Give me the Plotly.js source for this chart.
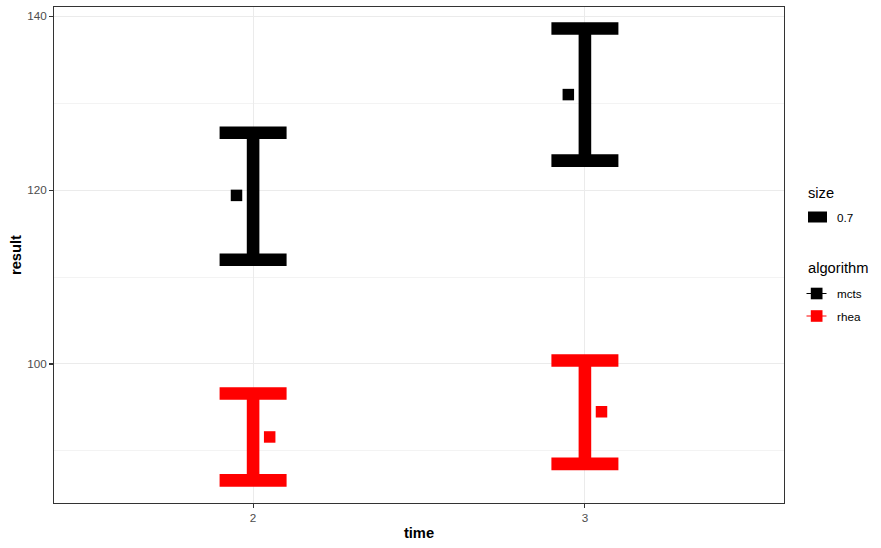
<!DOCTYPE html>
<html>
<head>
<meta charset="utf-8">
<script src="https://cdn.plot.ly/plotly-3.0.1.min.js"></script>
<style>
  html, body { margin: 0; padding: 0; background: #ffffff; }
  #chart { width: 881px; height: 548px; }
</style>
</head>
<body>
<div id="chart"></div>
<script>
// ---- data ----
var times = [2, 3];
var algorithms = ['mcts', 'rhea'];
var algoColors = ['#000000', '#FF0000'];
var mctsMean  = [119.4, 131.0];
var mctsLower = [112.0, 123.4];
var mctsUpper = [126.6, 138.6];
var rheaMean  = [91.6, 94.5];
var rheaLower = [86.6, 88.5];
var rheaUpper = [96.6, 100.4];
var sizeLevels = ['0.7'];
var xTickVals = [2, 3];
var xTickText = ['2', '3'];
var yTickVals = [100, 120, 140];
var yTickText = ['100', '120', '140'];

var series = [
  {name: algorithms[0], color: algoColors[0], mean: mctsMean, lower: mctsLower, upper: mctsUpper, dodge: -0.05},
  {name: algorithms[1], color: algoColors[1], mean: rheaMean, lower: rheaLower, upper: rheaUpper, dodge: 0.05}
];

var FONT = 'Liberation Sans, Arial, Helvetica, sans-serif';
var traces = [];
series.forEach(function (s) {
  traces.push({
    type: 'scatter', mode: 'markers', x: times, y: s.mean,
    marker: {size: 2, color: 'rgba(0,0,0,0)'},
    error_y: {
      type: 'data', symmetric: false,
      array: s.upper.map(function (u, i) { return u - s.mean[i]; }),
      arrayminus: s.lower.map(function (l, i) { return s.mean[i] - l; }),
      color: s.color, thickness: 12.6, width: 33.5
    },
    showlegend: false, hoverinfo: 'skip'
  });
});
series.forEach(function (s) {
  traces.push({
    type: 'scatter', mode: 'markers',
    x: times.map(function (t) { return t + s.dodge; }), y: s.mean,
    marker: {symbol: 'square', size: 11.5, color: s.color, line: {width: 0}},
    showlegend: false, hoverinfo: 'skip', name: s.name
  });
});

// ---- plot area in pixels ----
var L = 54, T = 7, W = 730, H = 496;
function px(x) { return (x - L) / W; }
function py(y) { return (T + H - y) / H; }

var shapes = [], annotations = [];
// legend: size
annotations.push({xref: 'paper', yref: 'paper', x: px(806), y: py(193), xanchor: 'left', yanchor: 'middle',
  text: 'size', showarrow: false, font: {family: FONT, size: 14.7, color: '#000000'}});
shapes.push({type: 'rect', xref: 'paper', yref: 'paper', x0: px(808), x1: px(827), y0: py(211.5), y1: py(222.5),
  fillcolor: '#000000', line: {width: 0}});
annotations.push({xref: 'paper', yref: 'paper', x: px(835), y: py(217.5), xanchor: 'left', yanchor: 'middle',
  text: sizeLevels[0], showarrow: false, font: {family: FONT, size: 11.7, color: '#000000'}});
// legend: algorithm
annotations.push({xref: 'paper', yref: 'paper', x: px(806), y: py(267.5), xanchor: 'left', yanchor: 'middle',
  text: 'algorithm', showarrow: false, font: {family: FONT, size: 14.7, color: '#000000'}});
series.forEach(function (s, i) {
  var cy = 293.5 + i * 22.5;
  shapes.push({type: 'line', xref: 'paper', yref: 'paper', x0: px(806.5), x1: px(826.5), y0: py(cy), y1: py(cy),
    line: {color: s.color, width: 1}});
  shapes.push({type: 'rect', xref: 'paper', yref: 'paper', x0: px(810.8), x1: px(822.5), y0: py(cy - 5.8), y1: py(cy + 5.8),
    fillcolor: s.color, line: {width: 0}});
  annotations.push({xref: 'paper', yref: 'paper', x: px(835), y: py(cy), xanchor: 'left', yanchor: 'middle',
    text: s.name, showarrow: false, font: {family: FONT, size: 11.7, color: '#000000'}});
});

var layout = {
  width: 881, height: 548,
  margin: {l: L, r: 881 - L - W, t: T, b: 548 - T - H, pad: 0},
  paper_bgcolor: '#ffffff', plot_bgcolor: '#ffffff',
  font: {family: FONT, color: '#000000'},
  hovermode: false,
  xaxis: {
    range: [1.4, 3.6], tickmode: 'array', tickvals: xTickVals, ticktext: xTickText,
    showgrid: true, gridcolor: '#EBEBEB', gridwidth: 1, zeroline: false,
    showline: true, mirror: true, linecolor: '#333333', linewidth: 1.1,
    ticks: 'outside', ticklen: 3.7, tickcolor: '#333333', tickwidth: 1.1,
    tickfont: {family: FONT, size: 11.7, color: '#4D4D4D'},
    title: {text: '<b>time</b>', font: {family: FONT, size: 14.7, color: '#000000'}, standoff: 4}
  },
  yaxis: {
    range: [84.0, 141.08], tickmode: 'array', tickvals: yTickVals, ticktext: yTickText,
    showgrid: true, gridcolor: '#EBEBEB', gridwidth: 1, zeroline: false,
    minor: {tickmode: 'array', tickvals: [90, 110, 130], showgrid: true, gridcolor: '#EBEBEB', gridwidth: 0.6, ticks: ''},
    showline: true, mirror: true, linecolor: '#333333', linewidth: 1.1,
    ticks: 'outside', ticklen: 3.7, tickcolor: '#333333', tickwidth: 1.1,
    tickfont: {family: FONT, size: 11.7, color: '#4D4D4D'},
    title: {text: '<b>result</b>', font: {family: FONT, size: 14.7, color: '#000000'}, standoff: 2}
  },
  shapes: shapes,
  annotations: annotations
};

Plotly.newPlot('chart', traces, layout, {displayModeBar: false, staticPlot: true});
</script>
</body>
</html>
